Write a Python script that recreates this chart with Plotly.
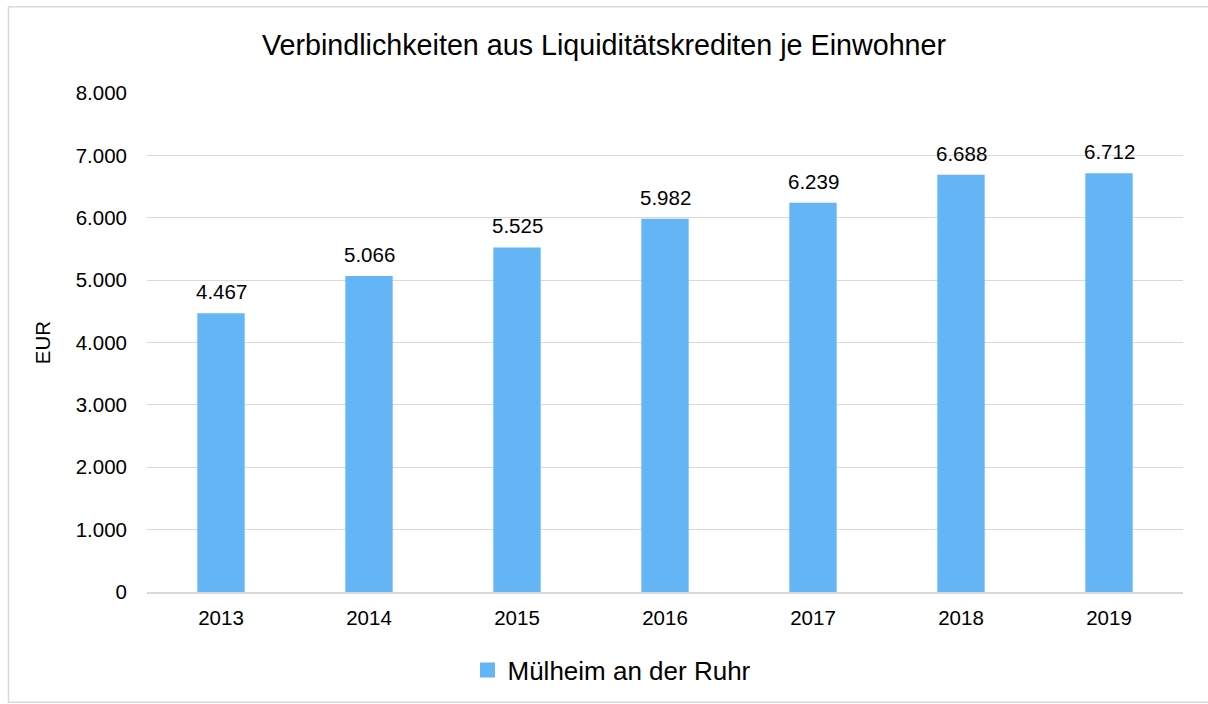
import plotly.graph_objects as go

years = ["2013", "2014", "2015", "2016", "2017", "2018", "2019"]
values = [4467, 5066, 5525, 5982, 6239, 6688, 6712]
series_name = "Mülheim an der Ruhr"
title_text = "Verbindlichkeiten aus Liquiditätskrediten je Einwohner"
y_title = "EUR"
y_ticks = [0, 1000, 2000, 3000, 4000, 5000, 6000, 7000, 8000]

FONT = "Liberation Sans, Arial, sans-serif"
BAR_COLOR = "#64B5F6"
W, H = 1208, 704
L, R, T, B = 147, 25, 93, 111
pw, ph = W - L - R, H - T - B


def de_fmt(v):
    return f"{v:,}".replace(",", ".")


fig = go.Figure()
fig.add_trace(go.Bar(
    x=years, y=values, name=series_name, showlegend=False,
    marker=dict(color=BAR_COLOR, line=dict(width=0)),
    width=0.32, hoverinfo="skip",
))
# legend proxy with a larger square swatch
fig.add_trace(go.Scatter(
    x=[years[0]], y=[None], mode="markers", name=series_name,
    marker=dict(symbol="square", size=15, color=BAR_COLOR),
    hoverinfo="skip",
))

# value labels above bars (category index positions on the x axis)
for i, v in enumerate(values):
    fig.add_annotation(x=i, y=v, xref="x", yref="y", text=de_fmt(v), showarrow=False,
                       yanchor="bottom", yshift=8,
                       font=dict(size=20.5, color="#000000", family=FONT))

fig.update_layout(
    width=W, height=H,
    margin=dict(l=L, r=R, t=T, b=B),
    separators=",.",
    paper_bgcolor="white", plot_bgcolor="white",
    font=dict(family=FONT, color="#000000"),
    title=dict(text=title_text, x=0.5, xanchor="center",
               y=1 - 45 / H, yanchor="middle",
               font=dict(size=28.7, color="#000000", family=FONT)),
    showlegend=True,
    legend=dict(orientation="h", x=(612 - L) / pw, xanchor="center",
                y=-(670 - (H - B)) / ph, yanchor="middle",
                font=dict(size=26, color="#000000", family=FONT),
                itemwidth=30, bgcolor="rgba(0,0,0,0)"),
    xaxis=dict(type="category", categoryorder="array", categoryarray=years,
               range=[-0.5, len(years) - 0.5], autorange=False,
               showgrid=False, showline=True, linecolor="#D9D9D9", linewidth=2,
               ticks="", ticklabelstandoff=6,
               tickfont=dict(size=20.5, color="#000000")),
    yaxis=dict(range=[0, 8000], tickvals=y_ticks, tickformat=",d",
               showgrid=True, gridcolor="#D9D9D9", gridwidth=1,
               zeroline=False, showline=False, ticks="",
               ticklabelstandoff=19,
               tickfont=dict(size=20.5, color="#000000"),
               title=dict(text=y_title, font=dict(size=20.5, color="#000000"), standoff=19)),
)

fig.add_shape(type="rect", xref="paper", yref="paper",
              x0=(8.5 - L) / pw, x1=(W + 30 - L) / pw,
              y0=-(703.5 - (H - B)) / ph, y1=((H - B) - 6.5) / ph,
              line=dict(color="#D9D9D9", width=1.5), fillcolor="rgba(0,0,0,0)", layer="below")

fig.write_html("out.html", config={"displayModeBar": False},
               post_script="document.body.style.margin='0';")
